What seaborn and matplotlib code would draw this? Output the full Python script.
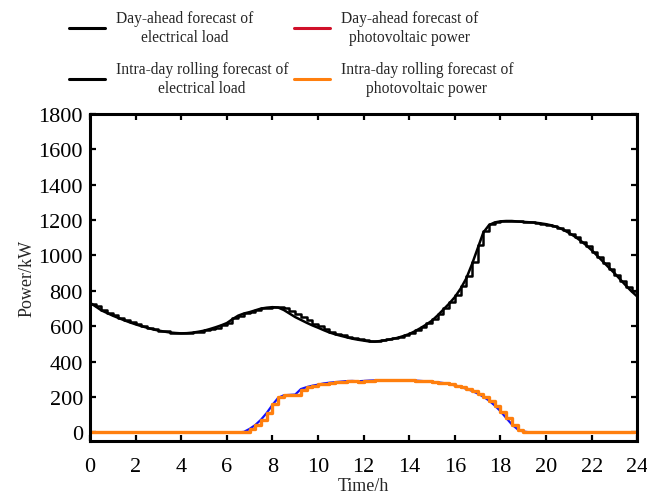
import numpy as np
import pandas as pd
import matplotlib
matplotlib.use("Agg")
import matplotlib.pyplot as plt
from matplotlib.lines import Line2D
import seaborn as sns

# Quarter-hour time grid over one day (97 samples, 0 h .. 24 h)
hours = np.linspace(0, 24, 97)

# Day-ahead forecast of electrical load, kW
load_day_ahead = [
    733, 712, 690, 675, 660, 647, 634, 622, 611, 601, 592, 583,
    576, 570, 565, 562, 560, 561, 564, 569, 575, 584, 594, 605,
    618, 640, 660, 672, 680, 690, 700, 705, 708, 706, 692, 672,
    652, 636, 620, 605, 592, 578, 565, 555, 546, 538, 530, 524,
    519, 514, 513, 517, 522, 528, 535, 545, 556, 572, 590, 610,
    632, 662, 695, 728, 765, 812, 870, 950, 1040, 1130, 1172, 1187,
    1193, 1195, 1195, 1192, 1190, 1188, 1186, 1182, 1177, 1170, 1160, 1146,
    1128, 1108, 1085, 1059, 1030, 998, 965, 932, 900, 865, 830, 797,
    768,
]

# Intra-day rolling forecast of electrical load, kW
load_intraday = [
    728, 715, 693, 676, 663, 648, 636, 622, 612, 600, 591, 584,
    575, 571, 564, 563, 561, 562, 566, 570, 577, 586, 593, 607,
    621, 645, 657, 674, 678, 693, 702, 703, 710, 711, 703, 686,
    668, 650, 634, 614, 600, 584, 570, 558, 550, 541, 533, 527,
    520, 516, 518, 521, 527, 532, 541, 548, 560, 578, 594, 616,
    640, 670, 703, 738, 775, 825, 885, 965, 1060, 1140, 1176, 1190,
    1196, 1197, 1194, 1193, 1189, 1188, 1184, 1180, 1174, 1168, 1156, 1142,
    1122, 1102, 1078, 1052, 1022, 990, 958, 925, 892, 858, 824, 800,
    790,
]

# Day-ahead forecast of photovoltaic power, kW
pv_day_ahead = [
    0, 0, 0, 0, 0, 0, 0, 0, 0, 0, 0, 0,
    0, 0, 0, 0, 0, 0, 0, 0, 0, 0, 0, 0,
    0, 0, 0, 3, 20, 42, 72, 110, 155, 195, 210, 212,
    214, 245, 256, 264, 270, 277, 281, 284, 287, 290, 291, 289,
    291, 293, 294, 294, 294, 294, 294, 294, 294, 293, 291, 289,
    286, 283, 279, 273, 266, 257, 247, 235, 220, 202, 180, 152,
    120, 82, 45, 18, 5, 1, 0, 0, 0, 0, 0, 0,
    0, 0, 0, 0, 0, 0, 0, 0, 0, 0, 0, 0,
    0,
]

# Intra-day rolling forecast of photovoltaic power, kW
pv_intraday = [
    0, 0, 0, 0, 0, 0, 0, 0, 0, 0, 0, 0,
    0, 0, 0, 0, 0, 0, 0, 0, 0, 0, 0, 0,
    0, 0, 0, 2, 18, 44, 70, 108, 158, 198, 210, 210,
    212, 242, 255, 262, 271, 276, 280, 285, 287, 289, 290, 287,
    290, 292, 294, 294, 295, 295, 294, 294, 294, 292, 291, 288,
    285, 282, 278, 272, 265, 256, 246, 234, 219, 200, 178, 150,
    118, 80, 43, 16, 4, 0, 0, 0, 0, 0, 0, 0,
    0, 0, 0, 0, 0, 0, 0, 0, 0, 0, 0, 0,
    0,
]

x_ticks = list(range(0, 25, 2))
y_ticks = list(range(0, 1801, 200))

legend_labels = [
    "Day-ahead forecast of\nelectrical load",
    "Intra-day rolling forecast of\nelectrical load",
    "Day-ahead forecast of\nphotovoltaic power",
    "Intra-day rolling forecast of\nphotovoltaic power",
]

df = pd.DataFrame({
    "hour": hours,
    "load_da": load_day_ahead,
    "load_id": load_intraday,
    "pv_da": pv_day_ahead,
    "pv_id": pv_intraday,
})

sns.set_theme(style="ticks")
plt.rcParams["font.family"] = ["Liberation Serif", "DejaVu Serif"]

fig = plt.figure(figsize=(6.47, 5.02), dpi=100)
ax = fig.add_axes([0.139, 0.119, 0.846, 0.652])

sns.lineplot(data=df, x="hour", y="load_da", ax=ax, color="black", lw=1.8)
sns.lineplot(data=df, x="hour", y="load_id", ax=ax, color="black", lw=1.8,
             drawstyle="steps-post")
sns.lineplot(data=df, x="hour", y="pv_da", ax=ax, color="#1010ff", lw=1.6)
sns.lineplot(data=df, x="hour", y="pv_id", ax=ax, color="#ff7f0e", lw=2.4,
             drawstyle="steps-post")

ax.set_xlim(0, 24)
ax.set_ylim(-50, 1800)
ax.set_xticks(x_ticks)
ax.set_yticks(y_ticks)
ax.set_xticklabels([str(t) for t in x_ticks], fontsize=16)
ax.set_yticklabels([str(t) for t in y_ticks], fontsize=16)
ax.tick_params(axis="both", direction="in", length=4, width=1.6,
               top=True, right=True, color="black", labelcolor="black")
ax.tick_params(axis="x", pad=11)
ax.tick_params(axis="y", pad=5)
for side in ax.spines.values():
    side.set_visible(True)
    side.set_linewidth(2.2)
    side.set_color("black")

ax.set_xlabel("Time/h", fontsize=13, labelpad=1)
ax.set_ylabel("Power/kW", fontsize=13, labelpad=2)

handles = [
    Line2D([], [], color="black", lw=2.2),
    Line2D([], [], color="black", lw=2.2),
    Line2D([], [], color="#d0102a", lw=2.2),
    Line2D([], [], color="#ff7f0e", lw=2.2),
]
leg = fig.legend(handles, legend_labels, ncol=2, loc="upper center",
                 bbox_to_anchor=(0.45, 1.005), frameon=False, fontsize=11.2,
                 handlelength=2.3, columnspacing=0.35, labelspacing=1.05,
                 handletextpad=0.7)
for t in leg.get_texts():
    t.set_multialignment("center")

fig.savefig("out.png", dpi=100)
